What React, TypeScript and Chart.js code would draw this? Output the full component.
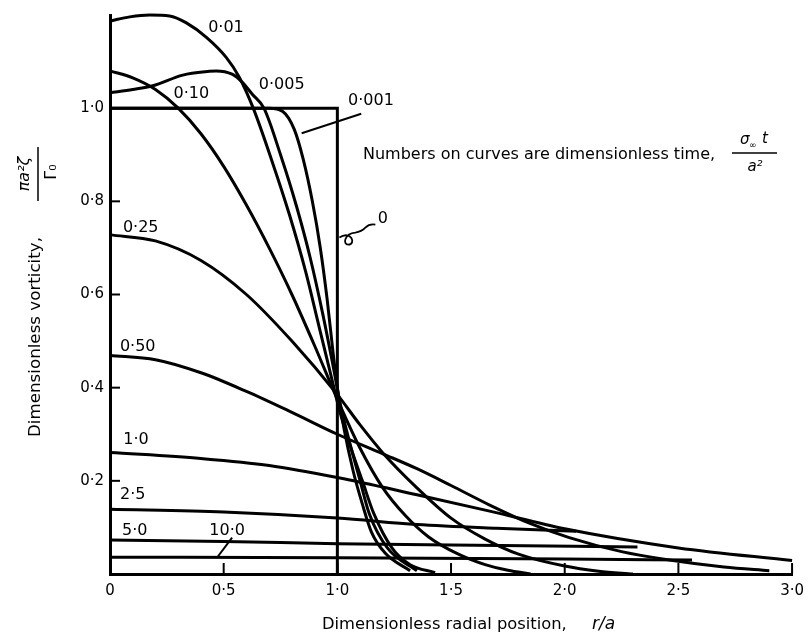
import React, { useEffect, useRef } from 'react';
import { Chart, registerables } from 'chart.js';

Chart.register(...registerables);

const FONT = '"DejaVu Sans"';

// ---- Data (r/a, dimensionless vorticity) ----
const t0X = [0, 1.0, 1.0];
const t0Y = [1.0, 1.0, 0];

const t0001X = [0, 0.3, 0.6, 0.7, 0.76, 0.81, 0.85, 0.89, 0.925, 0.955, 0.98, 1.0, 1.03, 1.07, 1.11, 1.15, 1.21, 1.32];
const t0001Y = [1.0, 1.0, 1.0, 1.0, 0.993, 0.955, 0.89, 0.8, 0.7, 0.59, 0.48, 0.4, 0.31, 0.22, 0.15, 0.09, 0.045, 0.007];

const t0005X = [0, 0.1, 0.188, 0.32, 0.437, 0.467, 0.537, 0.581, 0.624, 0.677, 0.75, 0.82, 0.88, 0.935, 0.98, 1.015, 1.05, 1.1, 1.14, 1.22, 1.35];
const t0005Y = [1.033, 1.04, 1.048, 1.071, 1.079, 1.08, 1.073, 1.056, 1.031, 1.0, 0.9, 0.79, 0.68, 0.56, 0.45, 0.36, 0.29, 0.2, 0.13, 0.056, 0.007];

const t001X = [0, 0.087, 0.175, 0.262, 0.336, 0.424, 0.511, 0.568, 0.63, 0.71, 0.79, 0.86, 0.92, 0.97, 1.01, 1.06, 1.11, 1.16, 1.24, 1.32, 1.43];
const t001Y = [1.187, 1.196, 1.2, 1.198, 1.183, 1.152, 1.109, 1.067, 1.0, 0.89, 0.77, 0.65, 0.53, 0.43, 0.35, 0.27, 0.2, 0.13, 0.056, 0.02, 0.003];

const t010X = [0, 0.1, 0.2, 0.3, 0.4, 0.5, 0.6, 0.7, 0.8, 0.9, 1.0, 1.1, 1.2, 1.3, 1.4, 1.53, 1.65, 1.75, 1.85];
const t010Y = [1.08, 1.065, 1.04, 1.0, 0.945, 0.875, 0.792, 0.7, 0.6, 0.49, 0.375, 0.27, 0.185, 0.125, 0.08, 0.043, 0.02, 0.008, 0.0];

const t025X = [0, 0.2, 0.4, 0.6, 0.8, 1.0, 1.1, 1.2, 1.35, 1.5, 1.65, 1.8, 2.0, 2.15, 2.3];
const t025Y = [0.728, 0.715, 0.673, 0.6, 0.5, 0.385, 0.32, 0.26, 0.185, 0.12, 0.075, 0.042, 0.017, 0.006, 0.0];

const t050X = [0, 0.2, 0.4, 0.6, 0.8, 1.0, 1.2, 1.35, 1.5, 1.67, 1.85, 2.02, 2.25, 2.46, 2.7, 2.9];
const t050Y = [0.469, 0.46, 0.432, 0.392, 0.347, 0.3, 0.258, 0.226, 0.19, 0.148, 0.108, 0.078, 0.048, 0.03, 0.015, 0.007];

const t10X = [0, 0.4, 0.7, 1.0, 1.35, 1.67, 2.0, 2.5, 3.0];
const t10Y = [0.261, 0.248, 0.233, 0.207, 0.17, 0.135, 0.097, 0.056, 0.029];

const t25X = [0, 0.5, 1.0, 1.35, 1.7, 2.05];
const t25Y = [0.139, 0.133, 0.12, 0.106, 0.098, 0.092];

const t50X = [0, 0.5, 1.0, 1.5, 2.32];
const t50Y = [0.073, 0.07, 0.065, 0.062, 0.058];

const t100X = [0, 1.0, 2.0, 2.56];
const t100Y = [0.036, 0.035, 0.032, 0.03];

// ---- Curve labels (dimensionless time) and their anchor positions ----
const curveLabels = ['0·01', '0·005', '0·10', '0·001', '0·25', '0·50', '1·0', '2·5', '5·0', '10·0', '0'];
const curveLabelX = [0.51, 0.755, 0.358, 1.148, 0.135, 0.122, 0.114, 0.1, 0.109, 0.515, 1.2];
const curveLabelY = [1.173, 1.05, 1.031, 1.016, 0.743, 0.488, 0.287, 0.17, 0.092, 0.092, 0.762];

// ---- Tick labels ----
const xTickValues = [0, 0.5, 1.0, 1.5, 2.0, 2.5, 3.0];
const xTickLabels = ['0', '0·5', '1·0', '1·5', '2·0', '2·5', '3·0'];
const yTickValues = [0.2, 0.4, 0.6, 0.8, 1.0];
const yTickLabels = ['0·2', '0·4', '0·6', '0·8', '1·0'];
const xTickMarks = [0.5, 1.0, 1.5, 2.0, 2.5, 3.0];
const yTickMarks = [0.2, 0.4, 0.6, 0.8];

const series = [
  { x: t0X, y: t0Y, step: true },
  { x: t0001X, y: t0001Y },
  { x: t0005X, y: t0005Y },
  { x: t001X, y: t001Y },
  { x: t010X, y: t010Y },
  { x: t025X, y: t025Y },
  { x: t050X, y: t050Y },
  { x: t10X, y: t10Y },
  { x: t25X, y: t25Y },
  { x: t50X, y: t50Y },
  { x: t100X, y: t100Y },
];

function labelFor(values: number[], labels: string[], v: number) {
  for (let i = 0; i < values.length; i++) {
    if (Math.abs(values[i] - v) < 1e-6) return labels[i];
  }
  return '';
}

function fitFont(ctx: CanvasRenderingContext2D, text: string, width: number, style: string) {
  ctx.font = `${style} 20px ${FONT}`;
  const w = ctx.measureText(text).width;
  const size = (20 * width) / w;
  ctx.font = `${style} ${size.toFixed(2)}px ${FONT}`;
}

const decor = {
  id: 'decor',
  afterDraw(chart: any) {
    const ctx: CanvasRenderingContext2D = chart.ctx;
    const xs = chart.scales.x;
    const ys = chart.scales.y;
    const px = (v: number) => xs.getPixelForValue(v);
    const py = (v: number) => ys.getPixelForValue(v);
    ctx.save();
    ctx.strokeStyle = '#000';
    ctx.fillStyle = '#000';
    ctx.lineCap = 'butt';

    // inward tick marks
    ctx.lineWidth = 2;
    yTickMarks.forEach((v) => {
      ctx.beginPath();
      ctx.moveTo(px(0), py(v));
      ctx.lineTo(px(0) + 10, py(v));
      ctx.stroke();
    });
    xTickMarks.forEach((v) => {
      ctx.beginPath();
      ctx.moveTo(px(v), py(0));
      ctx.lineTo(px(v), py(0) - 11);
      ctx.stroke();
    });

    // curve labels
    ctx.textAlign = 'center';
    ctx.textBaseline = 'middle';
    curveLabels.forEach((t, i) => {
      ctx.font = `16px ${FONT}`;
      ctx.fillText(t, px(curveLabelX[i]), py(curveLabelY[i]));
    });

    // leaders
    ctx.lineWidth = 2;
    ctx.beginPath();
    ctx.moveTo(px(1.105), py(0.988));
    ctx.lineTo(px(0.843), py(0.946));
    ctx.stroke();
    ctx.beginPath();
    ctx.moveTo(px(0.537), py(0.078));
    ctx.lineTo(px(0.472), py(0.036));
    ctx.stroke();
    // squiggle pointing at the t = 0 step
    const ax = px(1.0), ay = py(0.72);
    ctx.lineWidth = 1.8;
    ctx.beginPath();
    ctx.moveTo(ax + 2, ay - 1);
    ctx.bezierCurveTo(ax + 14, ay - 9, ax + 19, ay + 6, ax + 11, ay + 6);
    ctx.bezierCurveTo(ax + 5, ay + 6, ax + 7, ay - 5, ax + 18, ay - 6);
    ctx.quadraticCurveTo(ax + 24, ay - 7, ax + 28, ay - 11);
    ctx.quadraticCurveTo(ax + 32, ay - 15, ax + 38, ay - 14);
    ctx.stroke();

    // x axis title
    ctx.textAlign = 'left';
    ctx.textBaseline = 'middle';
    fitFont(ctx, 'Dimensionless radial position,', 245, '');
    ctx.fillText('Dimensionless radial position,', 322, 625);
    ctx.font = `italic 17px ${FONT}`;
    ctx.fillText('r/a', 592, 625);

    // y axis title (rotated)
    ctx.save();
    ctx.translate(36, 337);
    ctx.rotate(-Math.PI / 2);
    ctx.textAlign = 'center';
    fitFont(ctx, 'Dimensionless vorticity,', 200, '');
    ctx.fillText('Dimensionless vorticity,', 0, 0);
    ctx.restore();
    ctx.save();
    ctx.translate(25, 174);
    ctx.rotate(-Math.PI / 2);
    ctx.textAlign = 'center';
    ctx.font = `italic 16px ${FONT}`;
    ctx.fillText('πa²ζ', 0, 0);
    ctx.restore();
    ctx.save();
    ctx.translate(52, 172);
    ctx.rotate(-Math.PI / 2);
    ctx.textAlign = 'center';
    ctx.font = `16px ${FONT}`;
    ctx.fillText('Γ₀', 0, 0);
    ctx.restore();
    ctx.lineWidth = 1.5;
    ctx.beginPath();
    ctx.moveTo(38, 147);
    ctx.lineTo(38, 201);
    ctx.stroke();

    // annotation
    ctx.textAlign = 'left';
    fitFont(ctx, 'Numbers on curves are dimensionless time,', 352, '');
    ctx.fillText('Numbers on curves are dimensionless time,', 363, 155);
    ctx.beginPath();
    ctx.moveTo(732, 153);
    ctx.lineTo(777, 153);
    ctx.stroke();
    ctx.textAlign = 'left';
    ctx.font = `italic 15px ${FONT}`;
    ctx.fillText('σ', 740, 140);
    ctx.font = `9px ${FONT}`;
    ctx.fillText('∞', 749, 146);
    ctx.font = `italic 15px ${FONT}`;
    ctx.fillText('t', 762, 139);
    ctx.textAlign = 'center';
    ctx.fillText('a²', 755, 167);

    ctx.restore();
  },
};

export default function App() {
  const ref = useRef<HTMLCanvasElement | null>(null);
  useEffect(() => {
    if (!ref.current) return;
    const datasets = series.map((s) => ({
      data: s.x.map((x, i) => ({ x, y: s.y[i] })),
      showLine: true,
      borderColor: '#000',
      backgroundColor: '#000',
      borderWidth: 3,
      pointRadius: 0,
      fill: false,
      clip: false as any,
      tension: s.step ? 0 : 0.4,
      cubicInterpolationMode: s.step ? 'default' : 'monotone',
      borderCapStyle: 'butt',
      borderJoinStyle: 'miter',
    }));
    const chart = new Chart(ref.current, {
      type: 'scatter',
      data: { datasets: datasets as any },
      options: {
        animation: false,
        responsive: false,
        layout: { padding: { left: 0, right: 15, top: 7, bottom: 0 } },
        plugins: { legend: { display: false }, tooltip: { enabled: false } },
        scales: {
          x: {
            type: 'linear',
            min: 0,
            max: 3,
            afterFit: (s: any) => { s.height = 66; },
            grid: { display: false, drawTicks: false },
            border: { display: true, color: '#000', width: 3 },
            ticks: {
              stepSize: 0.5,
              padding: 8,
              color: '#000',
              maxRotation: 0,
              font: { family: 'DejaVu Sans', size: 15 },
              callback: (v: any) => labelFor(xTickValues, xTickLabels, Number(v)),
            },
          },
          y: {
            type: 'linear',
            min: 0,
            max: 1.2,
            afterFit: (s: any) => { s.width = 110; },
            grid: { display: false, drawTicks: false },
            border: { display: true, color: '#000', width: 3 },
            ticks: {
              stepSize: 0.2,
              padding: 6,
              color: '#000',
              font: { family: 'DejaVu Sans', size: 15 },
              callback: (v: any) => labelFor(yTickValues, yTickLabels, Number(v)),
            },
          },
        },
      },
      plugins: [decor],
    });
    return () => chart.destroy();
  }, []);
  return (
    <div style={{ position: 'fixed', left: 0, top: 0, width: 812, height: 640, background: '#fff' }}>
      <canvas ref={ref} width={812} height={640} style={{ display: 'block', width: 812, height: 640 }} />
    </div>
  );
}
